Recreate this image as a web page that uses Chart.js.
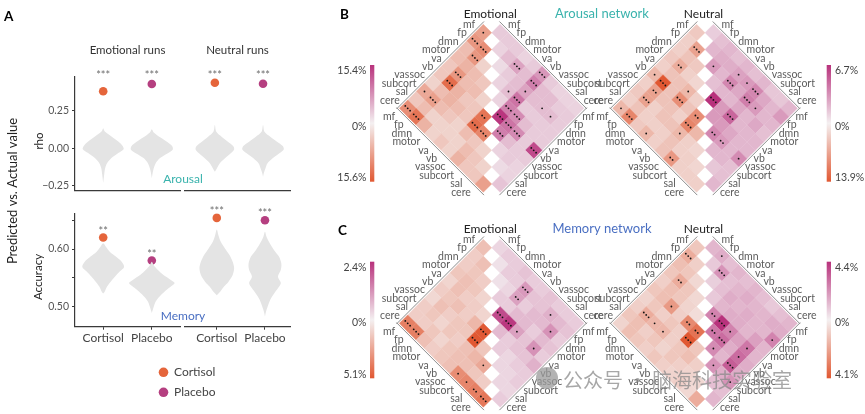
<!DOCTYPE html>
<html>
<head>
<meta charset="utf-8">
<script src="https://cdn.jsdelivr.net/npm/chart.js@4.4.1/dist/chart.umd.min.js"></script>
<style>
  html, body { margin: 0; padding: 0; background: #fff; }
  #page { position: relative; width: 865px; height: 414px; overflow: hidden; }
  .box { position: absolute; }
</style>
</head>
<body>
<div id="page">
  <div class="box" style="left:0;top:0;width:865px;height:414px"><canvas id="maps"></canvas></div>
  <div class="box" style="left:20px;top:55px;width:162px;height:145px"><canvas id="rhoEmo"></canvas></div>
  <div class="box" style="left:180px;top:55px;width:112px;height:145px"><canvas id="rhoNeu"></canvas></div>
  <div class="box" style="left:20px;top:195px;width:162px;height:156px"><canvas id="accEmo"></canvas></div>
  <div class="box" style="left:180px;top:195px;width:112px;height:156px"><canvas id="accNeu"></canvas></div>
</div>
<script>
Chart.defaults.font.family = 'Lato, "Open Sans", sans-serif';

// ---------- panel A ----------
const conditions = ['Cortisol', 'Placebo'];
const runs = ['Emotional runs', 'Neutral runs'];
// [emotional, neutral]
const rhoCortisol = [0.378, 0.435];
const rhoPlacebo = [0.426, 0.428];
const accCortisol = [0.620, 0.654];
const accPlacebo = [0.580, 0.650];
const rhoStars = [['***', '***'], ['***', '***']];
const accStars = [['**', '**'], ['***', '***']];
const rhoTicks = [-0.25, 0, 0.25];
const rhoTickLabels = ['\u22120.25', '0.00', '0.25'];
const accTicks = [0.50, 0.55, 0.60, 0.65];
const accTickLabels = ['0.50', '', '0.60', ''];

// null distributions: [value, half width], top to bottom
const rhoNullEmoCortisol = [[0.133,0],[0.110,0.034],[0.077,0.17],[0.044,0.31],[0.015,0.40],[-0.007,0.42],[-0.033,0.31],[-0.066,0.17],[-0.10,0.08],[-0.133,0.04],[-0.177,0.02],[-0.232,0]];
const rhoNullEmoPlacebo = [[0.126,0],[0.104,0.04],[0.07,0.18],[0.04,0.32],[0.012,0.42],[-0.01,0.43],[-0.035,0.32],[-0.066,0.17],[-0.10,0.08],[-0.133,0.04],[-0.16,0.02],[-0.20,0]];
const rhoNullNeuCortisol = [[0.155,0],[0.11,0.03],[0.077,0.14],[0.044,0.27],[0.015,0.38],[-0.007,0.40],[-0.033,0.33],[-0.066,0.21],[-0.10,0.10],[-0.133,0.04],[-0.155,0]];
const rhoNullNeuPlacebo = [[0.155,0],[0.11,0.03],[0.077,0.15],[0.044,0.29],[0.015,0.41],[-0.007,0.43],[-0.033,0.34],[-0.066,0.20],[-0.10,0.09],[-0.133,0.05],[-0.16,0.02],[-0.188,0]];
const accNullEmoCortisol = [[0.610,0],[0.604,0.055],[0.595,0.14],[0.587,0.26],[0.578,0.38],[0.569,0.43],[0.561,0.34],[0.552,0.24],[0.543,0.15],[0.535,0.08],[0.526,0.03],[0.523,0]];
const accNullEmoPlacebo = [[0.578,0],[0.572,0.04],[0.564,0.12],[0.555,0.24],[0.546,0.40],[0.541,0.47],[0.534,0.38],[0.526,0.26],[0.517,0.15],[0.509,0.08],[0.500,0.04],[0.489,0]];
const accNullNeuCortisol = [[0.634,0],[0.624,0.034],[0.613,0.08],[0.601,0.17],[0.590,0.26],[0.578,0.33],[0.567,0.36],[0.555,0.33],[0.543,0.24],[0.535,0.15],[0.526,0.07],[0.520,0]];
const accNullNeuPlacebo = [[0.630,0],[0.621,0.034],[0.610,0.10],[0.598,0.19],[0.587,0.29],[0.575,0.34],[0.564,0.33],[0.552,0.27],[0.541,0.33],[0.532,0.27],[0.523,0.19],[0.512,0.11],[0.500,0.055],[0.491,0.02],[0.483,0]];

const CORTISOL = '#e5653b';
const PLACEBO = '#b53f80';
const VIOLIN = '#e4e4e4';

function violinPoints(center, prof) {
  const right = prof.slice().reverse().map(([v, w]) => ({x: center + w, y: v}));
  const left = prof.slice(1).map(([v, w]) => ({x: center - w, y: v}));
  return right.concat(left);
}

const starPlugin = {
  id: 'stars',
  afterDatasetsDraw(chart, args, opts) {
    const ctx = chart.ctx;
    ctx.save();
    ctx.fillStyle = '#6e6e6e';
    ctx.font = '11px Lato';
    ctx.textAlign = 'center';
    ctx.textBaseline = 'middle';
    opts.stars.forEach((s, i) => {
      const el = chart.getDatasetMeta(2 + i).data[0];
      const y = opts.fixedTop ? chart.chartArea.top - 4 : el.y - 9.5;
      ctx.fillText(s, el.x, y + 3);
    });
    ctx.restore();
  }
};

function panelA(id, o) {
  const axisLine = {display: true, color: '#3a3a3a', width: 1.2};
  new Chart(document.getElementById(id), {
    type: 'line',
    data: {
      datasets: [
        {data: violinPoints(1, o.nulls[0]), fill: 'shape', backgroundColor: VIOLIN, borderWidth: 0, pointRadius: 0, tension: 0.3},
        {data: violinPoints(2, o.nulls[1]), fill: 'shape', backgroundColor: VIOLIN, borderWidth: 0, pointRadius: 0, tension: 0.3},
        {data: [{x: 1, y: o.values[0]}], showLine: false, pointRadius: 4.3, pointBackgroundColor: CORTISOL, pointBorderWidth: 0},
        {data: [{x: 2, y: o.values[1]}], showLine: false, pointRadius: 4.3, pointBackgroundColor: PLACEBO, pointBorderWidth: 0}
      ]
    },
    options: {
      responsive: true, maintainAspectRatio: false, animation: false, events: [],
      layout: {padding: o.padding, autoPadding: false},
      plugins: {legend: {display: false}, tooltip: {enabled: false}, stars: {stars: o.stars, fixedTop: o.fixedTop}},
      scales: {
        x: {
          type: 'linear', min: o.xRange[0], max: o.xRange[1],
          afterFit: s => { s.height = o.xHeight; },
          afterBuildTicks: s => { s.ticks = [{value: 1}, {value: 2}]; },
          grid: {display: o.xLabels, drawOnChartArea: false, tickLength: 3, color: '#3a3a3a'},
          border: axisLine,
          ticks: {display: o.xLabels, padding: 1, color: '#444', font: {size: 12}, callback: (v, i) => conditions[i]}
        },
        y: {
          display: o.showY, min: o.yRange[0], max: o.yRange[1],
          afterFit: s => { s.width = o.showY ? 55 : 0; },
          afterBuildTicks: s => { s.ticks = o.yTicks.map(v => ({value: v})); },
          grid: {drawOnChartArea: false, tickLength: 3, color: '#3a3a3a'},
          border: axisLine,
          ticks: {padding: 3, color: '#555', font: {size: 10.5}, callback: (v, i) => o.yLabels[i]}
        }
      }
    },
    plugins: [starPlugin]
  });
}

panelA('rhoEmo', {nulls: [rhoNullEmoCortisol, rhoNullEmoPlacebo], values: [rhoCortisol[0], rhoPlacebo[0]], stars: rhoStars[0], fixedTop: true,
  padding: {top: 21.7, bottom: 1, left: 0, right: 2}, xRange: [0.42, 2.58], xHeight: 8, xLabels: false, showY: true,
  yRange: [-0.283, 0.475], yTicks: rhoTicks, yLabels: rhoTickLabels});
panelA('rhoNeu', {nulls: [rhoNullNeuCortisol, rhoNullNeuPlacebo], values: [rhoCortisol[1], rhoPlacebo[1]], stars: rhoStars[1], fixedTop: true,
  padding: {top: 21.7, bottom: 1, left: 5, right: 2}, xRange: [0.38, 2.56], xHeight: 8, xLabels: false, showY: false,
  yRange: [-0.283, 0.475], yTicks: rhoTicks, yLabels: rhoTickLabels});
panelA('accEmo', {nulls: [accNullEmoCortisol, accNullEmoPlacebo], values: [accCortisol[0], accPlacebo[0]], stars: accStars[0], fixedTop: false,
  padding: {top: 18.3, bottom: 2.3, left: 0, right: 2}, xRange: [0.42, 2.58], xHeight: 22, xLabels: true, showY: true,
  yRange: [0.4653, 0.662], yTicks: accTicks, yLabels: accTickLabels});
panelA('accNeu', {nulls: [accNullNeuCortisol, accNullNeuPlacebo], values: [accCortisol[1], accPlacebo[1]], stars: accStars[1], fixedTop: false,
  padding: {top: 18.3, bottom: 2.3, left: 5, right: 2}, xRange: [0.34, 2.52], xHeight: 22, xLabels: true, showY: false,
  yRange: [0.4653, 0.662], yTicks: accTicks, yLabels: accTickLabels});

// ---------- panels B, C ----------
const networks = ['mf', 'fp', 'dmn', 'motor', 'va', 'vb', 'vassoc', 'subcort', 'sal', 'cere'];

// percent, row r = network on the upper edge, entries c = 0..r
const arousalEmoNeg = [
  [7], [8, 9], [4, 8, 2], [4, 5, 4, 3], [3, 8, 4, 4, 2], [3, 13, 5, 3, 3, 12],
  [2, 4, 5, 4, 3, 13, 10], [6, 7, 4, 3, 2, 4, 3, 2], [3, 4, 2, 2, 2, 2, 4, 3, 2],
  [9, 12, 5, 2, 3, 2, 5, 3, 3, 7]];
const arousalEmoPos = [
  [2], [2, 1.5], [2, 3, 1], [1.5, 5, 2, 1.5], [2, 3, 3, 3, 1.5], [6, 8, 5, 9, 8, 15],
  [2, 3, 3, 2, 7, 9, 8], [1.5, 3, 3, 2, 3, 7, 3, 1.5], [1.5, 2, 3, 2, 2, 2, 2, 2, 1],
  [1.5, 2, 2, 2, 2, 13, 2, 1.5, 1.5, 2.5]];
const arousalNeuNeg = [
  [2.5], [2, 6], [2, 3, 2.5], [2.5, 5, 2, 1.5], [2, 3, 3, 4, 2], [4, 13.9, 3, 8, 3, 8],
  [2, 6, 3, 3, 2, 9, 4], [2.5, 6, 2, 3, 3, 4, 2, 1.5], [2, 3, 2, 2, 2, 3, 2, 2, 1.5],
  [4, 9, 2.5, 4, 2, 3, 7, 2, 2, 2]];
const arousalNeuPos = [
  [0.8], [1.2, 1.5], [1.5, 1.8, 2.5], [1.2, 1.8, 1.5, 1.2], [1.5, 2.2, 3.2, 1.5, 6.7], [1.2, 2.5, 2, 1.5, 2.5, 2.5],
  [1.5, 3.2, 3.5, 2, 4.5, 2.5, 3.2], [1, 2, 2.5, 1.5, 1.5, 2, 2.5, 1.5], [1, 1.5, 1.5, 2, 1.5, 1.5, 1.5, 1.5, 1],
  [1.5, 2.5, 1.5, 1.2, 1.5, 1.5, 3, 1.2, 1.2, 1.5]];
const memoryEmoNeg = [
  [1.2], [0.8, 1.2], [0.8, 1, 0.8], [1, 1.2, 1, 0.6], [0.6, 1.2, 0.8, 0.8, 0.6], [0.8, 1, 1.2, 0.8, 1.5, 5],
  [0.5, 1.2, 0.8, 1, 1, 5.1, 1], [0.8, 1, 0.6, 1, 0.8, 1.2, 1.5, 2], [0.8, 0.8, 1, 0.6, 1, 1.2, 1.2, 1, 0.8],
  [3.5, 3.5, 1.2, 0.8, 1, 1.2, 3, 3.2, 3.5, 3.8]];
const memoryEmoPos = [
  [0.2], [0.3, 0.1], [0.3, 0.3, 0.1], [0.4, 0.3, 0.2, 0.3], [0.3, 0.9, 0.8, 0.3, 2.0], [0.3, 0.4, 0.3, 0.5, 2.3, 0.5],
  [0.4, 0.4, 0.5, 0.5, 0.8, 0.3, 0.3], [0.3, 0.6, 0.5, 0.3, 0.4, 0.4, 0.2, 0.2], [0.3, 0.5, 1.0, 0.5, 1.0, 0.4, 0.3, 0.2, 0.2],
  [0.3, 0.4, 0.3, 0.4, 0.3, 0.6, 0.3, 0.3, 0.2, 0.3]];
const memoryNeuNeg = [
  [0.8], [1.5, 0.6], [1, 0.8, 0.4], [0.8, 1.5, 0.8, 0.4], [0.6, 1, 0.8, 0.5, 0.3], [0.8, 1, 2, 0.6, 2.5, 3.2],
  [0.5, 0.8, 0.6, 0.8, 0.6, 4.1, 0.8], [0.6, 1.5, 1.2, 1.2, 0.6, 0.8, 1, 0.6], [0.8, 1, 0.6, 0.8, 0.5, 0.8, 0.6, 0.5, 0.4],
  [0.5, 1, 0.8, 0.6, 0.8, 0.6, 0.5, 0.6, 0.4, 1.5]];
const memoryNeuPos = [
  [1], [1.2, 0.6], [0.8, 1.8, 0.5], [1, 0.8, 0.8, 0.6], [0.8, 1, 1.2, 1, 2.2], [1, 1.2, 1, 1.2, 4.4, 2.5],
  [0.8, 1, 1.2, 1.2, 2.2, 2.8, 2], [0.6, 1, 1, 1, 1.5, 1.2, 1, 1.8], [0.8, 1.2, 1, 1.5, 2.5, 2.8, 3.2, 1.2, 0.8],
  [1, 1.2, 2.2, 1, 1, 1.2, 1.2, 1.8, 0.8, 1]];

// significance: [row, col, number of stars]
const arousalEmoNegSig = [[0,0,1],[1,0,3],[1,1,3],[2,1,3],[4,1,3],[5,1,3],[7,0,1],[7,1,3],[9,0,3],[9,1,3],[5,5,2],[6,5,3],[6,6,3]];
const arousalEmoPosSig = [[3,1,3],[5,0,3],[5,1,3],[4,3,1],[5,2,1],[5,3,3],[5,4,3],[7,2,1],[8,2,1],[5,5,3],[6,4,3],[6,5,3],[7,5,3],[6,6,3],[9,5,3]];
const arousalNeuNegSig = [[1,1,3],[3,1,2],[5,0,1],[5,1,3],[6,1,2],[4,3,1],[7,1,3],[5,3,3],[9,0,1],[9,1,3],[5,5,2],[6,5,3],[7,5,1],[9,3,1],[9,6,2]];
const arousalNeuPosSig = [[2,2,1],[4,1,1],[4,2,3],[5,1,1],[6,1,3],[4,4,3],[6,2,3],[7,2,1],[6,4,3],[6,6,2],[7,6,2],[9,6,1]];
const memoryEmoNegSig = [[9,0,3],[9,1,3],[5,5,3],[6,5,3],[7,7,1],[9,6,1],[9,7,1],[9,8,2],[9,9,3]];
const memoryEmoPosSig = [[4,1,3],[4,2,2],[7,1,1],[4,4,3],[5,4,3],[6,4,1],[8,2,1],[8,4,1]];
const memoryNeuNegSig = [[1,0,3],[3,1,2],[5,2,1],[7,1,3],[7,2,1],[7,3,1],[5,4,2],[5,5,2],[6,5,3]];
const memoryNeuPosSig = [[1,0,1],[2,1,3],[4,4,2],[5,4,3],[6,4,1],[5,5,2],[6,5,3],[9,2,1],[6,6,1],[8,4,1],[8,5,1],[8,6,3],[7,7,1],[9,7,1]];

const MID = [244, 240, 241], NEG_HI = [225, 88, 50], POS_HI = [184, 50, 124];
function mix(v, max, hi) {
  const t = Math.pow(Math.min(1, v / max), 0.8);
  return 'rgb(' + MID.map((m, i) => Math.round(m + (hi[i] - m) * t)).join(',') + ')';
}

const D = 8.4;
const heatmaps = [
  {x: 483.3, y: 32.7, cond: 'Emotional', neg: arousalEmoNeg, pos: arousalEmoPos, negMax: 15.6, posMax: 15.4, negSig: arousalEmoNegSig, posSig: arousalEmoPosSig},
  {x: 696.6, y: 32.7, cond: 'Neutral', neg: arousalNeuNeg, pos: arousalNeuPos, negMax: 13.9, posMax: 6.7, negSig: arousalNeuNegSig, posSig: arousalNeuPosSig},
  {x: 483.3, y: 247.7, cond: 'Emotional', neg: memoryEmoNeg, pos: memoryEmoPos, negMax: 5.1, posMax: 2.4, negSig: memoryEmoNegSig, posSig: memoryEmoPosSig},
  {x: 696.6, y: 247.7, cond: 'Neutral', neg: memoryNeuNeg, pos: memoryNeuPos, negMax: 4.1, posMax: 4.4, negSig: memoryNeuNegSig, posSig: memoryNeuPosSig}
];
const colorbars = [
  {map: 0, x: 370, top: 65, bottom: 181.7, side: 'left'},
  {map: 1, x: 826.7, top: 65, bottom: 181.7, side: 'right'},
  {map: 2, x: 370, top: 261.7, bottom: 378.3, side: 'left'},
  {map: 3, x: 826.7, top: 261.7, bottom: 378.3, side: 'right'}
];

function cellXY(h, side, r, c) {
  if (side < 0) return {x: h.x - D * r + D * c, y: h.y + D * r + D * c};
  return {x: h.x + 2 * D + D * r - D * c, y: h.y + D * r + D * c};
}

const cellSets = [];
const dotPts = [];
heatmaps.forEach(h => {
  [[-1, h.neg, h.negMax, NEG_HI, h.negSig], [1, h.pos, h.posMax, POS_HI, h.posSig]].forEach(([side, vals, max, hi, sig]) => {
    const pts = [], cols = [];
    vals.forEach((row, r) => row.forEach((v, c) => {
      pts.push(cellXY(h, side, r, c));
      cols.push(mix(v, max, hi));
    }));
    cellSets.push({data: pts, order: 1, pointStyle: 'rectRot', pointRadius: D, pointBackgroundColor: cols,
      pointBorderColor: cols, pointBorderWidth: 0.4});
    sig.forEach(([r, c, n]) => {
      const p = cellXY(h, side, r, c);
      for (let i = 0; i < n; i++) {
        const o = (i - (n - 1) / 2) * 2.4;
        dotPts.push({x: p.x + o, y: p.y + o});
      }
    });
  });
});
cellSets.push({data: dotPts, order: -1, pointStyle: 'circle', pointRadius: 0.9, pointBackgroundColor: '#111', pointBorderWidth: 0});

function text(ctx, s, x, y, font, color, align) {
  ctx.font = font;
  ctx.fillStyle = color;
  ctx.textAlign = align || 'center';
  ctx.textBaseline = 'middle';
  ctx.fillText(s, x, y);
}
function edge(ctx, a, b, nx, ny) {
  const dx = b.x - a.x, dy = b.y - a.y, len = Math.hypot(dx, dy), ux = dx / len, uy = dy / len;
  const o = 1.5, e = 2.5;
  ctx.moveTo(a.x - ux * e + nx * o, a.y - uy * e + ny * o);
  ctx.lineTo(b.x + ux * e + nx * o, b.y + uy * e + ny * o);
}

const decor = {
  id: 'decor',
  afterDatasetsDraw(chart) {
    const ctx = chart.ctx;
    const X = v => chart.scales.x.getPixelForValue(v), Y = v => chart.scales.y.getPixelForValue(v);
    const P = p => ({x: X(p.x), y: Y(p.y)});
    ctx.save();
    const lab = '10.5px Lato', labColor = '#5c5c5c';
    heatmaps.forEach(h => {
      // border lines
      const lv = P(cellXY(h, -1, 9, 0)), lt = P(cellXY(h, -1, 0, 0)), lb = P(cellXY(h, -1, 9, 9));
      const rv = P(cellXY(h, 1, 9, 0)), rt = P(cellXY(h, 1, 0, 0)), rb = P(cellXY(h, 1, 9, 9));
      const s = Math.SQRT1_2;
      ctx.beginPath();
      edge(ctx, {x: lv.x - D, y: lv.y}, {x: lt.x, y: lt.y - D}, -s, -s);
      edge(ctx, {x: lv.x - D, y: lv.y}, {x: lb.x, y: lb.y + D}, -s, s);
      edge(ctx, {x: rt.x, y: rt.y - D}, {x: rv.x + D, y: rv.y}, s, -s);
      edge(ctx, {x: rb.x, y: rb.y + D}, {x: rv.x + D, y: rv.y}, s, s);
      ctx.strokeStyle = '#8c8c8c';
      ctx.lineWidth = 1;
      ctx.stroke();
      // network labels
      networks.forEach((n, i) => {
        const a = P(cellXY(h, -1, i, 0)), b = P(cellXY(h, -1, 9, i));
        const c = P(cellXY(h, 1, i, 0)), d = P(cellXY(h, 1, 9, i));
        text(ctx, n, a.x - 8, a.y - 8, lab, labColor, 'right');
        text(ctx, n, b.x - 12.5, b.y + 8.4, lab, labColor, 'right');
        text(ctx, n, c.x + 8, c.y - 8, lab, labColor, 'left');
        text(ctx, n, d.x + 6.5, d.y + 8.4, lab, labColor, 'left');
      });
      text(ctx, h.cond, X(h.x + D - 1.5), Y(h.y - 18.7), '12px Lato', '#222');
    });
    // colorbars
    colorbars.forEach(cb => {
      const h = heatmaps[cb.map];
      const x = X(cb.x), t = Y(cb.top), b = Y(cb.bottom);
      const g = ctx.createLinearGradient(0, t, 0, b);
      g.addColorStop(0, 'rgb(' + POS_HI.join(',') + ')');
      g.addColorStop(0.5, 'rgb(' + MID.join(',') + ')');
      g.addColorStop(1, 'rgb(' + NEG_HI.join(',') + ')');
      ctx.fillStyle = g;
      ctx.fillRect(x, t, 4.3, b - t);
      const lx = cb.side === 'left' ? x - 3.5 : x + 8.3, al = cb.side === 'left' ? 'right' : 'left';
      text(ctx, h.posMax + '%', lx, t + 5.5, '10.5px Lato', '#444', al);
      text(ctx, '0%', lx, (t + b) / 2 + 3, '10.5px Lato', '#444', al);
      text(ctx, h.negMax + '%', lx, b - 4, '10.5px Lato', '#444', al);
    });
    text(ctx, 'Arousal network', X(602), Y(14), '13px Lato', '#3ab3ad');
    text(ctx, 'Memory network', X(602), Y(228.5), '13px Lato', '#4a6fc2');
    text(ctx, 'B', X(340), Y(15), 'bold 13.5px Lato', '#000', 'left');
    text(ctx, 'C', X(338), Y(231), 'bold 13.5px Lato', '#000', 'left');
    // panel A text
    text(ctx, 'A', X(4), Y(17), 'bold 13.5px Lato', '#000', 'left');
    runs.forEach((r, i) => text(ctx, r, X(i ? 237.5 : 127.5), Y(50), '11.5px Lato', '#333'));
    text(ctx, 'Arousal', X(183), Y(179), '12px Lato', '#3ab3ad');
    text(ctx, 'Memory', X(183), Y(316.5), '12px Lato', '#4a6fc2');
    const rot = (s, x, y, font) => {
      ctx.save(); ctx.translate(X(x), Y(y)); ctx.rotate(-Math.PI / 2);
      text(ctx, s, 0, 0, font, '#222'); ctx.restore();
    };
    rot('Predicted vs. Actual value', 13, 191, '13px Lato');
    rot('rho', 39, 141, '11.5px Lato');
    rot('Accuracy', 38.5, 277, '11.5px Lato');
    // legend
    [[CORTISOL, 372.3], [PLACEBO, 392.3]].forEach(([col, y], i) => {
      ctx.beginPath(); ctx.arc(X(163.5), Y(y), 4.8, 0, Math.PI * 2); ctx.fillStyle = col; ctx.fill();
      text(ctx, conditions[i], X(174), Y(y), '12px Lato', '#444', 'left');
    });
    // watermark
    ctx.globalAlpha = 0.75;
    ctx.beginPath(); ctx.arc(X(547), Y(378), 11, 0, Math.PI * 2); ctx.fillStyle = '#9a9a9a'; ctx.fill();
    text(ctx, '公众号 · 脑海科技实验室', X(563), Y(380), '20px "Noto Sans CJK SC"', '#8a8a8a', 'left');
    ctx.restore();
  }
};

new Chart(document.getElementById('maps'), {
  type: 'scatter',
  data: {datasets: cellSets},
  options: {
    responsive: true, maintainAspectRatio: false, animation: false, events: [],
    layout: {padding: 0, autoPadding: false},
    plugins: {legend: {display: false}, tooltip: {enabled: false}},
    scales: {
      x: {type: 'linear', display: false, min: 0, max: 865},
      y: {type: 'linear', display: false, min: 0, max: 414, reverse: true}
    }
  },
  plugins: [decor]
});
</script>
</body>
</html>
